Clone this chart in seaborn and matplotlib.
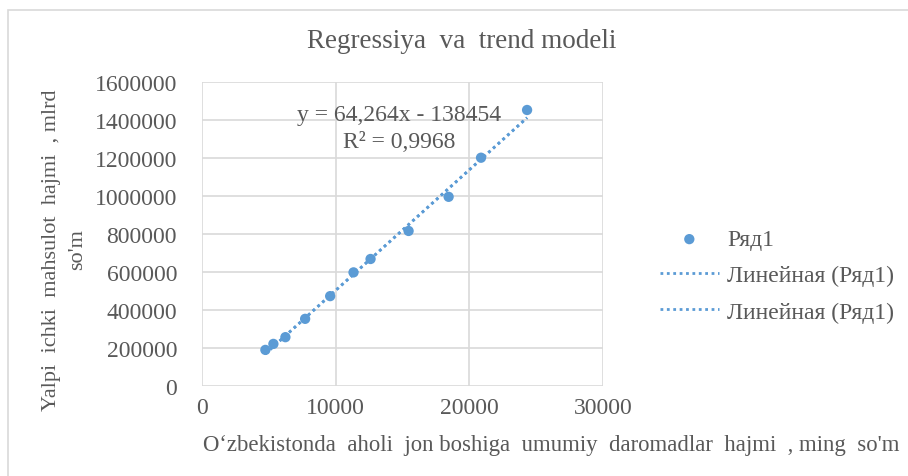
import numpy as np
import pandas as pd
import matplotlib
matplotlib.use("Agg")
import matplotlib.pyplot as plt
from matplotlib.patches import Rectangle
import seaborn as sns

# Data
income = [4742, 5341, 6240, 7715, 9588, 11335, 12610, 15455, 18450, 20875, 24320]
gdp = [190000, 221600, 257000, 353500, 473000, 598000, 668500, 816000, 995700, 1201500, 1452700]
x_ticks = [0, 10000, 20000, 30000]
y_ticks = [0, 200000, 400000, 600000, 800000, 1000000, 1200000, 1400000, 1600000]
series_label = "Ряд1"
trend_label = "Линейная (Ряд1)"
title = "Regressiya  va  trend modeli"
xlabel = "O‘zbekistonda  aholi  jon boshiga  umumiy  daromadlar  hajmi  , ming  so'm"
ylabel = "Yalpi  ichki  mahsulot  hajmi  , mlrd\nso'm"
equation = "y = 64,264x - 138454"
r2_text = "R² = 0,9968"

df = pd.DataFrame({"x": income, "y": gdp})

sns.set_style("white")
plt.rcParams["font.family"] = ["Liberation Serif", "DejaVu Serif"]
TXT = "#595959"
BLUE = "#5B9BD5"
GRID = "#D9D9D9"
FS = 17

W, H = 908, 477
fig = plt.figure(figsize=(W / 100, H / 100), dpi=100)
ax = fig.add_axes([202 / W, 1 - 387 / H, (603 - 202) / W, (387 - 83) / H])

sns.scatterplot(data=df, x="x", y="y", ax=ax, color=BLUE, s=55, edgecolor="none",
                label=series_label, zorder=3)
for _ in range(2):
    sns.regplot(data=df, x="x", y="y", ax=ax, scatter=False, ci=None, truncate=True,
                color=BLUE, label=trend_label,
                line_kws=dict(linestyle=(0, (1, 1.3)), linewidth=2.0, zorder=2))

ax.set_xlim(0, 30000)
ax.set_ylim(0, 1600000)
ax.set_xticks(x_ticks)
ax.set_yticks(y_ticks)
ax.set_xticklabels([str(v) for v in x_ticks])
ax.set_yticklabels([str(v) for v in y_ticks])
ax.grid(True, color=GRID, linewidth=1.2)
ax.set_axisbelow(True)
for s in ax.spines.values():
    s.set_visible(False)
ax.tick_params(axis="both", length=0, labelsize=FS, colors=TXT)
ax.tick_params(axis="y", pad=18)
ax.tick_params(axis="x", pad=8)
ax.set_xlabel("")
ax.set_ylabel("")

fig.text(462 / W, 1 - 42 / H, title, ha="center", va="center", fontsize=19.5, color=TXT)
fig.text(203 / W, 1 - 446 / H, xlabel, ha="left", va="center", fontsize=16.4, color=TXT)
fig.text(65 / W, 1 - 250 / H, ylabel, ha="center", va="center", rotation=90,
         multialignment="center", linespacing=1.5, fontsize=16, color=TXT)
fig.text(399 / W, 1 - 115 / H, equation, ha="center", va="center", fontsize=FS, color=TXT)
fig.text(399 / W, 1 - 142 / H, r2_text, ha="center", va="center", fontsize=FS, color=TXT)

leg = ax.legend(loc="upper left", bbox_to_anchor=(648 / W, 1 - 218 / H),
                bbox_transform=fig.transFigure, frameon=False, fontsize=FS,
                handlelength=2.5, handletextpad=0.35, labelspacing=0.62, borderpad=0)
for t in leg.get_texts():
    t.set_color(TXT)

fig.patches.append(Rectangle((8 / W, -0.1), 1.2, (H - 11) / H + 0.1,
                             transform=fig.transFigure, fill=False,
                             edgecolor=GRID, linewidth=1.2))

fig.savefig("out.png", dpi=100, facecolor="white")
